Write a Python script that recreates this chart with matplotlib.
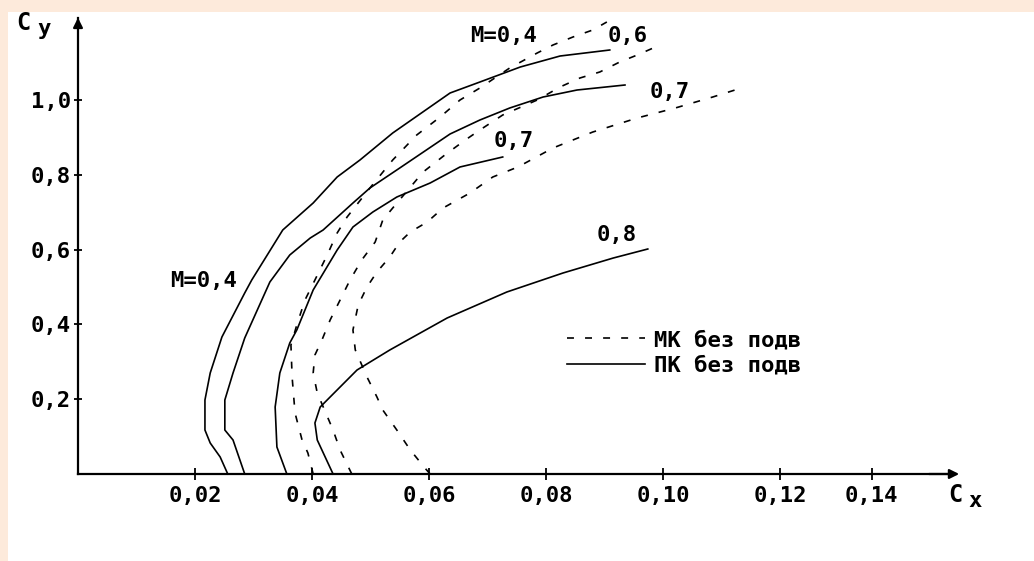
import matplotlib
matplotlib.use("Agg")
import matplotlib.pyplot as plt
from matplotlib.lines import Line2D

plt.rcParams['font.family'] = ['DejaVu Sans Mono', 'DejaVu Sans']
plt.rcParams['font.weight'] = 'bold'
plt.rcParams['lines.scale_dashes'] = False

# ПК без подв (solid), M = 0.4, 0.6, 0.7, 0.8
pk_m04_cx = [0.0256, 0.0243, 0.0226, 0.0217, 0.0217, 0.0226, 0.0246, 0.0285, 0.0297, 0.0350,
             0.0402, 0.0443, 0.0482, 0.0538, 0.0636, 0.0687, 0.0756, 0.0824, 0.0909]
pk_m04_cy = [0.0, 0.0455, 0.0829, 0.1176, 0.1979, 0.2701, 0.3663, 0.4840, 0.5187, 0.6524,
             0.7246, 0.7941, 0.8396, 0.9118, 1.0187, 1.0481, 1.0882, 1.1176, 1.1337]

pk_m06_cx = [0.0285, 0.0265, 0.0251, 0.0251, 0.0265, 0.0285, 0.0328, 0.0362, 0.0397, 0.0419,
             0.0470, 0.0499, 0.0550, 0.0636, 0.0687, 0.0738, 0.0795, 0.0853, 0.0935]
pk_m06_cy = [0.0, 0.0909, 0.1176, 0.1979, 0.2701, 0.3636, 0.5134, 0.5856, 0.6310, 0.6524,
             0.7246, 0.7647, 0.8182, 0.9091, 0.9465, 0.9786, 1.0080, 1.0267, 1.0401]

pk_m07_cx = [0.0357, 0.0340, 0.0337, 0.0345, 0.0362, 0.0374, 0.0402, 0.0443, 0.0470, 0.0504,
             0.0545, 0.0602, 0.0653, 0.0726]
pk_m07_cy = [0.0, 0.0722, 0.1791, 0.2701, 0.3503, 0.3850, 0.4920, 0.5989, 0.6604, 0.7005,
             0.7406, 0.7781, 0.8209, 0.8476]

pk_m08_cx = [0.0436, 0.0409, 0.0405, 0.0414, 0.0431, 0.0477, 0.0533, 0.0585, 0.0631, 0.0733,
             0.0829, 0.0915, 0.0974]
pk_m08_cy = [0.0, 0.0909, 0.1364, 0.1791, 0.2059, 0.2781, 0.3316, 0.3770, 0.4171, 0.4866,
             0.5374, 0.5775, 0.6016]

# МК без подв (dashed), M = 0.4, 0.6, 0.7
mk_m04_cx = [0.0402, 0.0393, 0.0383, 0.0371, 0.0366, 0.0364, 0.0374, 0.0388, 0.0405, 0.0426,
             0.0443, 0.0460, 0.0499, 0.0538, 0.0579, 0.0619, 0.0653, 0.0687, 0.0738, 0.0785,
             0.0812, 0.0846, 0.0880, 0.0904]
mk_m04_cy = [0.0, 0.0561, 0.0909, 0.1631, 0.2594, 0.3449, 0.3984, 0.4652, 0.5187, 0.5856,
             0.6444, 0.6872, 0.7647, 0.8396, 0.9064, 0.9545, 1.0000, 1.0321, 1.0856, 1.1257,
             1.1471, 1.1684, 1.1872, 1.2086]

mk_m06_cx = [0.0468, 0.0448, 0.0436, 0.0409, 0.0402, 0.0405, 0.0417, 0.0431, 0.0448, 0.0465,
             0.0485, 0.0508, 0.0521, 0.0538, 0.0590, 0.0627, 0.0662, 0.0687, 0.0726, 0.0785,
             0.0824, 0.0858, 0.0892, 0.0926, 0.0956, 0.0995]
mk_m06_cy = [0.0, 0.0642, 0.1176, 0.2166, 0.2701, 0.3182, 0.3583, 0.4118, 0.4652, 0.5187,
             0.5722, 0.6203, 0.6791, 0.7112, 0.8075, 0.8529, 0.8930, 0.9198, 0.9599, 1.0000,
             1.0348, 1.0588, 1.0749, 1.1016, 1.1203, 1.1471]

mk_m07_cx = [0.0602, 0.0593, 0.0568, 0.0545, 0.0521, 0.0511, 0.0494, 0.0474, 0.0470, 0.0479,
             0.0494, 0.0511, 0.0533, 0.0550, 0.0568, 0.0597, 0.0624, 0.0670, 0.0709, 0.0752,
             0.0812, 0.0880, 0.0956, 0.1021, 0.1085, 0.1123]
mk_m07_cy = [0.0, 0.0160, 0.0642, 0.1176, 0.1711, 0.2059, 0.2594, 0.3316, 0.3850, 0.4519,
             0.5000, 0.5401, 0.5802, 0.6203, 0.6471, 0.6738, 0.7112, 0.7513, 0.7941, 0.8209,
             0.8717, 0.9144, 0.9519, 0.9786, 1.0080, 1.0267]

x_ticks = [0.02, 0.04, 0.06, 0.08, 0.10, 0.12, 0.1357]
x_labels = ['0,02', '0,04', '0,06', '0,08', '0,10', '0,12', '0,14']
y_ticks = [0.2, 0.4, 0.6, 0.8, 1.0]
y_labels = ['0,2', '0,4', '0,6', '0,8', '1,0']

# curve labels: text, cx, cy
curve_labels = [('M=0,4', 0.0728, 1.1711), ('0,6', 0.0940, 1.1711), ('0,7', 0.1012, 1.0214),
                ('0,7', 0.0744, 0.8904), ('0,8', 0.0921, 0.6390), ('M=0,4', 0.0214, 0.5160)]

FS = 16
fig = plt.figure(figsize=(10.34, 5.61), dpi=100, facecolor='#fdeadb')
ax = fig.add_axes([8/1034, 0, 1026/1034, 549/561], facecolor='white')
ax.set_xlim(-0.011966, 0.163419)
ax.set_ylim(-0.23262, 1.23529)

dash = (0, (5, 8))
lw = 1.2
for cx, cy in [(pk_m04_cx, pk_m04_cy), (pk_m06_cx, pk_m06_cy),
               (pk_m07_cx, pk_m07_cy), (pk_m08_cx, pk_m08_cy)]:
    ax.plot(cx, cy, color='black', lw=lw, solid_joinstyle='round')
for cx, cy in [(mk_m04_cx, mk_m04_cy), (mk_m06_cx, mk_m06_cy), (mk_m07_cx, mk_m07_cy)]:
    ax.plot(cx, cy, color='black', lw=lw, linestyle=dash)

for txt, x, y in curve_labels:
    ax.text(x, y, txt, fontsize=FS, fontweight='bold', ha='center', va='center')

# axes with arrows
for s in ['top', 'right']:
    ax.spines[s].set_visible(False)
ax.spines['left'].set_position(('data', 0))
ax.spines['bottom'].set_position(('data', 0))
ax.spines['left'].set_bounds(0, 1.22)
ax.spines['bottom'].set_bounds(0, 0.150)
ax.spines['left'].set_linewidth(1.6)
ax.spines['bottom'].set_linewidth(1.6)
ax.annotate('', xy=(0.1511, 0), xytext=(0.145, 0),
            arrowprops=dict(arrowstyle='-|>', color='black', lw=1.6, mutation_scale=14))
ax.annotate('', xy=(0, 1.2273), xytext=(0, 1.20),
            arrowprops=dict(arrowstyle='-|>', color='black', lw=1.6, mutation_scale=14))

ax.set_xticks(x_ticks, x_labels)
ax.set_yticks(y_ticks, y_labels)
ax.tick_params(axis='x', direction='inout', length=9, width=1.3, pad=4, labelsize=FS)
ax.tick_params(axis='y', direction='inout', length=6, width=1.3, pad=2, labelsize=FS)
for lab in ax.get_xticklabels() + ax.get_yticklabels():
    lab.set_fontweight('bold')

ax.text(-0.0094, 1.2059, 'C', fontsize=FS + 1, fontweight='bold', ha='center', va='center')
ax.text(-0.0058, 1.1900, 'y', fontsize=FS, fontweight='bold', ha='center', va='center')
ax.text(0.1499, -0.0561, 'C', fontsize=FS + 1, fontweight='bold', ha='center', va='center')
ax.text(0.1533, -0.0720, 'x', fontsize=FS, fontweight='bold', ha='center', va='center')

handles = [Line2D([], [], color='black', lw=lw, linestyle=dash),
           Line2D([], [], color='black', lw=lw)]
ax.legend(handles, ['МК без подв', 'ПК без подв'], loc='upper left',
          bbox_to_anchor=(0.0836, 0.3850), bbox_transform=ax.transData,
          frameon=False, prop={'size': FS, 'weight': 'bold'}, handlelength=3.5,
          handletextpad=0.4, labelspacing=0.25, borderpad=0, borderaxespad=0)

fig.savefig('out.png', dpi=100, facecolor=fig.get_facecolor())
